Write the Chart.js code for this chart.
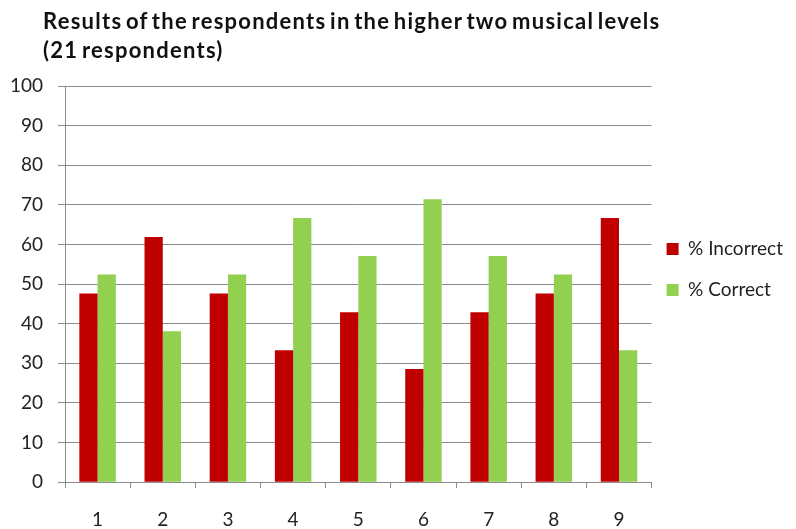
<!DOCTYPE html>
<html>
<head>
<meta charset="utf-8">
<script src="https://cdn.jsdelivr.net/npm/chart.js@4.4.0/dist/chart.umd.min.js"></script>
<style>
  html, body { margin: 0; padding: 0; background: #fff; }
  #wrap { position: relative; width: 796px; height: 529px; }
  #title {
    position: absolute; left: 43px; top: 6px;
    font: bold 22px Lato, "Liberation Sans", sans-serif;
    letter-spacing: 1.25px; word-spacing: -3px;
    line-height: 29px; color: #111;
  }
  canvas { display: block; }
</style>
</head>
<body>
<div id="wrap">
  <div id="title">Results of the respondents in the higher two musical levels<br>(21 respondents)</div>
  <canvas id="chart" width="796" height="529"></canvas>
</div>
<script>
// question numbers along the x axis
const questions = ['1', '2', '3', '4', '5', '6', '7', '8', '9'];
// share of the 21 respondents, in percent
const incorrect = [47.6, 61.9, 47.6, 33.3, 42.9, 28.6, 42.9, 47.6, 66.7];
const correct = [52.4, 38.1, 52.4, 66.7, 57.1, 71.4, 57.1, 52.4, 33.3];
const seriesNames = ['% Incorrect', '% Correct'];

const font = { family: 'Lato, "Liberation Sans", sans-serif', size: 19 };
const textColor = '#222';

// pull the legend a little closer to the plot than its label padding allows
const legendNudge = {
  id: 'legendNudge',
  afterLayout(chart) {
    chart.legend.left -= 7;
  }
};

new Chart(document.getElementById('chart').getContext('2d'), {
  type: 'bar',
  data: {
    labels: questions,
    datasets: [
      { label: seriesNames[0], data: incorrect, backgroundColor: '#C00000' },
      { label: seriesNames[1], data: correct, backgroundColor: '#92D050' }
    ]
  },
  options: {
    responsive: false,
    animation: false,
    layout: { padding: { top: 86, right: -4, bottom: -22, left: 9 } },
    datasets: { bar: { categoryPercentage: 0.56, barPercentage: 1 } },
    scales: {
      x: {
        grid: { display: true, drawOnChartArea: false, color: '#8c8c8c', tickLength: 6, offset: true },
        border: { color: '#8c8c8c' },
        ticks: { font, color: textColor, padding: 20 }
      },
      y: {
        min: 0, max: 100,
        afterFit(scale) { scale.width = 56; },
        ticks: { stepSize: 10, font, color: textColor, padding: 15 },
        grid: { color: '#8c8c8c', tickLength: 7 },
        border: { color: '#8c8c8c' }
      }
    },
    plugins: {
      legend: {
        position: 'right',
        align: 'start',
        title: { display: true, text: ' ', padding: { top: 0, bottom: 117 } },
        labels: { font, color: textColor, boxWidth: 12, boxHeight: 12, padding: 22 }
      },
      tooltip: { enabled: false }
    }
  },
  plugins: [legendNudge]
});
</script>
</body>
</html>
